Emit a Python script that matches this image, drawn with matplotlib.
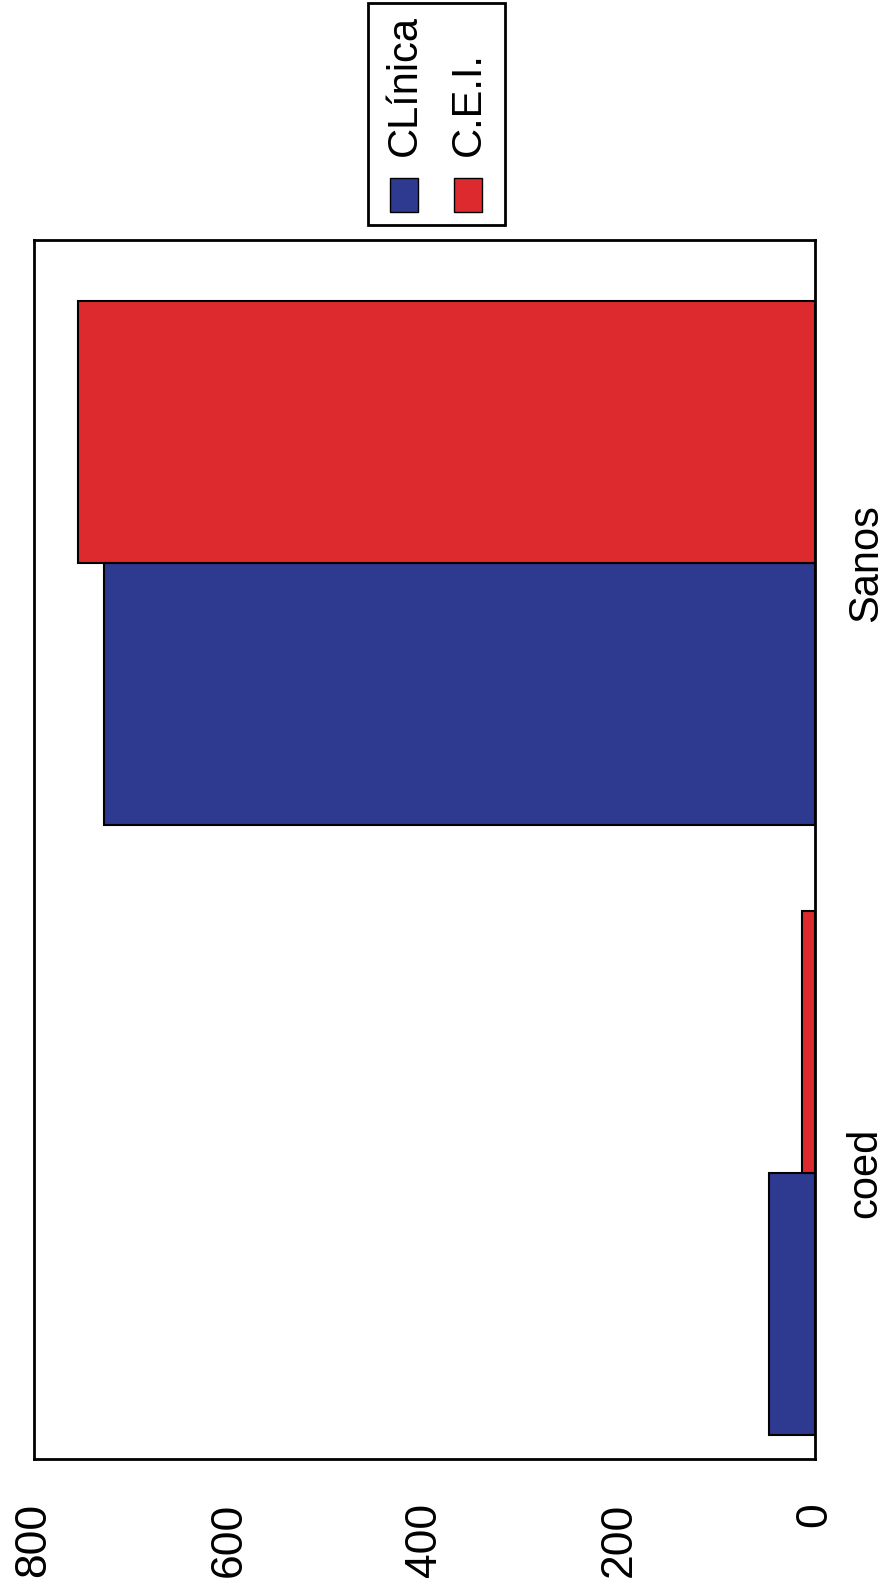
import numpy as np
import matplotlib.pyplot as plt
from matplotlib.patches import Rectangle

categorias = ['coed', 'Sanos']
series = ['CLínica', 'C.E.I.']
clinica = [47, 728]
cei = [13, 755]
colores = ['#2e3990', '#dc2a2e']
ticks = [0, 200, 400, 600, 800]

plt.rcParams['font.family'] = ['Liberation Sans', 'DejaVu Sans']

fig = plt.figure(figsize=(8.85, 15.88), dpi=100)
ax = fig.add_axes([0.038, 0.081, 0.883, 0.768])

# the page is scanned sideways, so draw horizontal bars with reversed value axis
y = np.arange(len(categorias))
h = 0.43
ax.barh(y - h / 2, clinica, height=h, color=colores[0], edgecolor='black', linewidth=1.5)
ax.barh(y + h / 2, cei, height=h, color=colores[1], edgecolor='black', linewidth=1.5)

ax.set_xlim(800, 0)
ax.set_ylim(-0.47, 1.53)
ax.set_xticks(ticks)
ax.set_xticklabels([str(t) for t in ticks], rotation=90, fontsize=32)
ax.tick_params(axis='x', length=0, pad=31)

ax.yaxis.tick_right()
ax.set_yticks(y)
ax.set_yticklabels(categorias, rotation=90, va='center', fontsize=30)
ax.tick_params(axis='y', length=0, pad=22)
for s in ax.spines.values():
    s.set_linewidth(2)

# legend, rotated like the rest of the page
W, H = 885, 1588
fig.patches.append(Rectangle((368 / W, 1 - 225 / H), 137 / W, 222 / H, transform=fig.transFigure,
                             facecolor='white', edgecolor='black', linewidth=2))
for i, (nombre, col) in enumerate(zip(series, colores)):
    x0 = 390 + i * 64
    fig.patches.append(Rectangle((x0 / W, 1 - 212 / H), 28 / W, 34 / H, transform=fig.transFigure,
                                 facecolor=col, edgecolor='black', linewidth=1))
    fig.text((x0 + 15) / W, 1 - 156 / H, nombre, rotation=90, rotation_mode='anchor',
             ha='left', va='center', fontsize=30)

fig.savefig('out.png', dpi=100)
